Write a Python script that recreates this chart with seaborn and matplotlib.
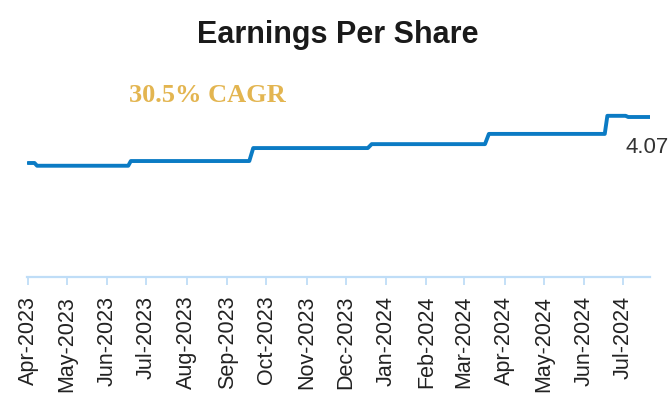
# Earnings per share step line with CAGR annotation
import pandas as pd
import seaborn as sns
import matplotlib
import matplotlib.pyplot as plt
import matplotlib.dates as mdates

matplotlib.use("Agg")

# EPS level at the start/end of each plateau
dates = ["2023-04-01", "2023-04-06", "2023-04-08", "2023-06-17", "2023-06-19",
         "2023-09-18", "2023-09-21", "2023-12-18", "2023-12-21", "2024-03-17",
         "2024-03-20", "2024-06-17", "2024-06-19", "2024-07-03", "2024-07-05",
         "2024-07-22"]
eps = [2.90, 2.90, 2.83, 2.83, 2.95, 2.95, 3.28, 3.28, 3.38, 3.38,
       3.64, 3.64, 4.10, 4.10, 4.07, 4.07]
last_label = "4.07"
cagr_label = "30.5% CAGR"
title = "Earnings Per Share"

df = pd.DataFrame({"Date": pd.to_datetime(dates), "EPS": eps})

sns.set_style("white")
plt.rcParams["font.family"] = ["Liberation Sans", "DejaVu Sans"]

fig = plt.figure(figsize=(6.71, 4.2), dpi=100)
ax = fig.add_axes([27 / 671, 1 - 277 / 420, 623 / 671, 217 / 420])

sns.lineplot(data=df, x="Date", y="EPS", ax=ax, color="#0B7BC4", linewidth=2.8)

ax.set_ylim(0, 5.52)
x0 = pd.Timestamp("2023-03-31 06:00")
ax.set_xlim(x0, x0 + pd.Timedelta(days=478.5))

# only the bottom axis is shown
sns.despine(ax=ax, left=True, top=True, right=True)
ax.spines["bottom"].set_color("#BFDDF7")
ax.spines["bottom"].set_linewidth(1.6)
ax.set_yticks([])
ax.set_xlabel("")
ax.set_ylabel("")

ax.xaxis.set_major_locator(mdates.MonthLocator())
ax.xaxis.set_major_formatter(mdates.DateFormatter("%b-%Y"))
ax.tick_params(axis="x", bottom=True, length=5.5, width=1.3, color="#BFDDF7",
               pad=8, labelsize=15.5, labelcolor="#222222", labelrotation=90)

# last value label
ax.annotate(last_label, xy=(df["Date"].iloc[-1], eps[-1]), xytext=(18, -36),
            textcoords="offset pixels", ha="right", va="baseline",
            fontsize=16, color="#333333", annotation_clip=False)

fig.text(0.504, 1 - 43 / 420, title, ha="center", va="baseline",
         fontsize=22, fontweight="bold", color="#1A1A1A")
fig.text(207 / 671, 1 - 101.5 / 420, cagr_label, ha="center", va="baseline",
         fontsize=19, fontweight="bold", color="#E3B550",
         family=["Liberation Serif", "DejaVu Serif"])

fig.savefig("out.png", dpi=100)
